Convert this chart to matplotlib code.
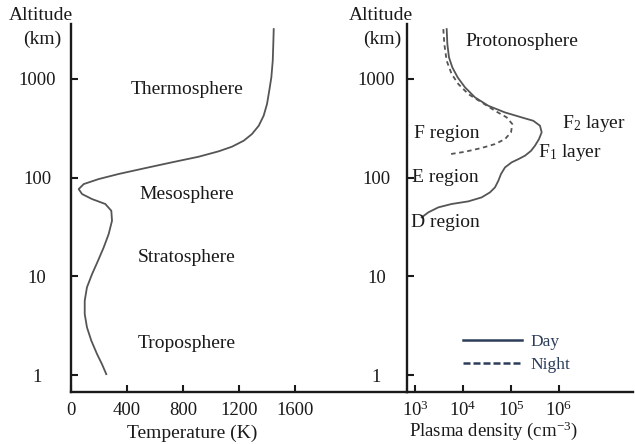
import matplotlib
matplotlib.use("Agg")
import matplotlib.pyplot as plt
from matplotlib.lines import Line2D
from matplotlib.ticker import FixedLocator, NullLocator

plt.rcParams['font.family'] = ['Liberation Serif', 'DejaVu Serif']
plt.rcParams['mathtext.fontset'] = 'custom'
plt.rcParams['mathtext.rm'] = 'Liberation Serif'
plt.rcParams['mathtext.it'] = 'Liberation Serif'

# temperature profile (K) vs altitude (km)
temp_k = [1448, 1445, 1441, 1431, 1416, 1400, 1376, 1341, 1293, 1234, 1150, 1055, 912,
          721, 531, 341, 198, 91, 55, 79, 150, 245, 288, 293, 269, 234, 193, 150, 114,
          98, 98, 114, 145, 186, 221, 252]
temp_alt = [3204, 2259, 1528, 1038, 760, 557, 424, 336, 277, 237, 206, 185, 163,
            143, 125, 109, 96.8, 86.1, 76.6, 68.2, 60.7, 54.1, 46.2, 36.6, 26.8, 19.7,
            14.4, 10.5, 7.74, 5.66, 4.15, 3.04, 2.23, 1.63, 1.29, 1.02]

# plasma density, log10(cm^-3), day and night
day_logn = [3.660, 3.674, 3.708, 3.778, 3.889, 4.042, 4.25, 4.528, 4.875, 5.222, 5.465,
            5.604, 5.639, 5.583, 5.5, 5.417, 5.292, 5.153, 5.014, 4.875, 4.792, 4.736,
            4.667, 4.563, 4.389, 4.111, 3.764, 3.486, 3.278, 3.139]
day_alt = [3204, 2259, 1656, 1310, 1038, 822, 651, 535, 458, 408, 377,
           336, 288, 246, 211, 187, 167, 154, 143, 127, 109, 93,
           79.8, 71, 63.1, 57.5, 54.1, 50, 44.5, 39.6]
night_logn = [3.590, 3.611, 3.660, 3.764, 3.903, 4.111, 4.389, 4.667, 4.91, 5.028,
              5.0, 4.875, 4.667, 4.389, 4.042, 3.729]
night_alt = [3204, 2259, 1528, 1121, 888, 703, 579, 476, 408, 349,
             288, 246, 219, 200, 183, 173]

alt_ticks = [1, 10, 100, 1000]
temp_ticks = [0, 400, 800, 1200, 1600]
dens_ticks = [1e3, 1e4, 1e5, 1e6]
dens_labels = ['10$^{3}$', '10$^{4}$', '10$^{5}$', '10$^{6}$']

W, H = 635, 444
fig = plt.figure(figsize=(W / 100, H / 100), dpi=100)

def box(x0, x1, y0, y1):
    return [x0 / W, 1 - y1 / H, (x1 - x0) / W, (y1 - y0) / H]

ylo = 10 ** (-17 / 98.7)
yhi = 10 ** (3 + 55 / 98.7)
curve = '#555555'
txt = '#1a1a1a'
navy = '#2c3d5a'

ax1 = fig.add_axes(box(71, 407, 24, 392))
ax2 = fig.add_axes(box(407, 633, 24, 392))

for ax in (ax1, ax2):
    ax.set_yscale('log')
    ax.set_ylim(ylo, yhi)
    for s in ('top', 'right'):
        ax.spines[s].set_visible(False)
    for s in ('left', 'bottom'):
        ax.spines[s].set_linewidth(1.7)
        ax.spines[s].set_color(txt)
    ax.yaxis.set_major_locator(FixedLocator(alt_ticks))
    ax.yaxis.set_minor_locator(NullLocator())
    ax.set_yticklabels([str(t) for t in alt_ticks])
    ax.tick_params(direction='in', length=5, width=1.5, colors=txt, labelsize=13.5)
    ax.set_facecolor('none')

ax1.tick_params(axis='y', pad=24.5)
ax2.tick_params(axis='y', pad=22)
ax1.tick_params(axis='x', pad=7)
ax2.tick_params(axis='x', pad=6)
for ax in (ax1, ax2):
    for lab in ax.get_yticklabels():
        lab.set_horizontalalignment('center')

# left panel: temperature
ax1.plot(temp_k, temp_alt, color=curve, lw=1.3)
ax1.set_xlim(0, 2400)
ax1.xaxis.set_major_locator(FixedLocator(temp_ticks))
ax1.set_xlabel('Temperature (K)', fontsize=14, color=txt, va='center')
ax1.xaxis.set_label_coords((192 - 71) / 336, -(433 - 392) / 368)

for name, y in [('Thermosphere', 89), ('Mesosphere', 194),
                ('Stratosphere', 257), ('Troposphere', 344)]:
    fig.text(187 / W, 1 - y / H, name, ha='center', va='center', fontsize=14, color=txt)

# right panel: plasma density
ax2.set_xscale('log')
ax2.plot([10 ** v for v in day_logn], day_alt, color=curve, lw=1.3)
ax2.plot([10 ** v for v in night_logn], night_alt, color=curve, lw=1.3, ls=(0, (2.5, 2)))
ax2.set_xlim(10 ** (3 - 8 / 48), 10 ** (3 + 218 / 48))
ax2.xaxis.set_major_locator(FixedLocator(dens_ticks))
ax2.xaxis.set_minor_locator(NullLocator())
ax2.set_xticklabels(dens_labels)
ax2.set_xlabel('Plasma density (cm$^{-3}$)', fontsize=13.5, color=txt, va='center')
ax2.xaxis.set_label_coords((493 - 407) / 226, -(431 - 392) / 368)

fig.text(522 / W, 1 - 42 / H, 'Protonosphere', ha='center', va='center', fontsize=14, color=txt)
fig.text(447 / W, 1 - 133 / H, 'F region', ha='center', va='center', fontsize=14, color=txt)
fig.text(562 / W, 1 - 123 / H, 'F$_{2}$ layer', ha='left', va='center', fontsize=14, color=txt)
fig.text(538 / W, 1 - 152 / H, 'F$_{1}$ layer', ha='left', va='center', fontsize=14, color=txt)
fig.text(412 / W, 1 - 177 / H, 'E region', ha='left', va='center', fontsize=14, color=txt)
fig.text(411 / W, 1 - 222 / H, 'D region', ha='left', va='center', fontsize=14, color=txt)

handles = [Line2D([], [], color=navy, lw=1.8),
           Line2D([], [], color=navy, lw=1.8, ls=(0, (2.8, 1.2)))]
ax2.legend(handles, ['Day', 'Night'], loc='upper left', bbox_to_anchor=(0.248, 0.158),
           frameon=False, fontsize=12.5, handlelength=3.4, handletextpad=0.5,
           labelspacing=0.42, borderpad=0, borderaxespad=0, labelcolor=navy)

for x in (41, 381):
    fig.text(x / W, 1 - 15 / H, 'Altitude', ha='center', va='center', fontsize=14, color=txt)
    fig.text((x + 1) / W, 1 - 39 / H, '(km)', ha='center', va='center', fontsize=14, color=txt)

fig.savefig('out.png', dpi=100, facecolor='white')
